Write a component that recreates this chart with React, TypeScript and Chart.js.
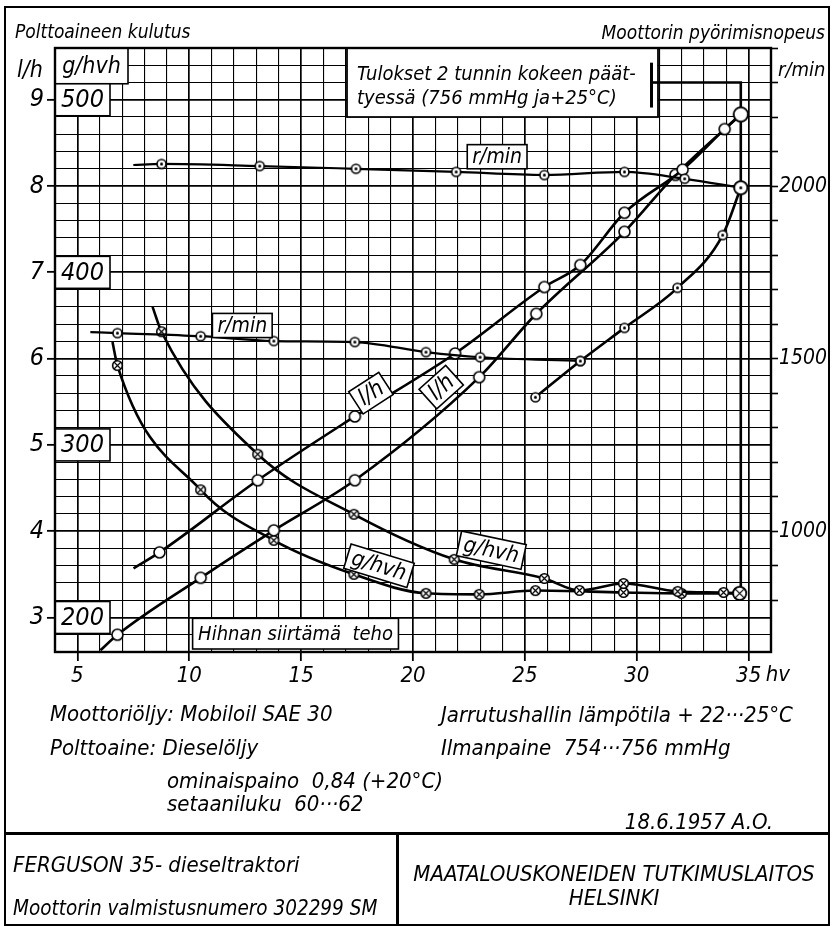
import React, { useEffect, useRef } from 'react';
import { Chart, registerables } from 'chart.js';

Chart.register(...registerables);

const FONT = '"Liberation Sans Narrow", "DejaVu Sans Condensed", "Liberation Sans", "DejaVu Sans", sans-serif';

// ---------- tick labels ----------
const xTickValues = [5, 10, 15, 20, 25, 30, 35];
const lhTickValues = [3, 4, 5, 6, 7, 8, 9];
const gTickValues = [200, 300, 400, 500];
const rpmTickValues = [1000, 1500, 2000];

// ---------- series (x = hv, belt power) ----------
// r/min, governed full-throttle run
const rpmGovX = [7.5, 8.76, 13.15, 17.45, 21.93, 25.87, 29.45, 32.14, 34.65];
const rpmGovY = [2061, 2064, 2058, 2050, 2041, 2032, 2041, 2021, 1995];
// r/min, partial run
const rpmPartX = [5.58, 6.79, 10.51, 13.78, 17.4, 20.58, 23.0, 27.48];
const rpmPartY = [1577, 1574, 1565, 1551, 1548, 1519, 1504, 1493];
// r/min, lugging curve
const rpmLugX = [25.47, 27.48, 29.45, 31.82, 33.84, 34.65];
const rpmLugY = [1388, 1493, 1589, 1705, 1858, 1995];
// l/h, curve A
const fuelAX = [7.51, 8.67, 13.06, 17.4, 21.88, 25.87, 27.48, 29.45, 32.05, 33.93, 34.65];
const fuelAY = [3.57, 3.755, 4.59, 5.33, 6.06, 6.83, 7.085, 7.69, 8.19, 8.66, 8.83];
// l/h, curve B
const fuelBX = [6.03, 6.79, 10.51, 13.78, 17.4, 22.96, 25.51, 29.45, 31.73, 34.65];
const fuelBY = [2.62, 2.8, 3.46, 4.01, 4.59, 5.785, 6.52, 7.47, 8.13, 8.83];
// g/hvh, curve A
const specAX = [8.36, 8.76, 13.06, 17.36, 21.84, 25.87, 27.44, 29.41, 31.83, 33.88, 34.6];
const specAY = [380, 365.6, 294.6, 259.8, 233.7, 222.6, 215.7, 219.7, 215.1, 214.5, 214];
// g/hvh, curve B
const specBX = [6.57, 6.79, 10.51, 13.78, 17.36, 20.58, 22.96, 25.47, 29.41, 32.0, 34.6];
const specBY = [359.6, 346, 274, 244.7, 225, 214, 213.4, 215.6, 214.5, 214, 214];

// ---------- annotation anchors (in data units) ----------
const ANN = {
  leaderX: 34.65, leaderTopLh: 9.2, leaderBottomG: 214,
  bracketX: 30.66, bracketTopLh: 9.43, bracketBottomLh: 8.91,
  noteLeftX: 17.05, noteRightX: 30.95, noteBottomLh: 8.8, noteTextX: 17.5,
  noteLine1Lh: 9.232, noteLine2Lh: 8.95,
  beltLeftX: 10.15, beltRightX: 19.35, beltTopLh: 2.99,
  rpm1: { x: 23.76, y: 2085 }, rpm2: { x: 12.37, y: 1596 },
  lh1: { x: 18.12, y: 5.6, a: -33 }, lh2: { x: 21.26, y: 5.67, a: -42 },
  g1: { x: 18.48, y: 230, a: 17 }, g2: { x: 23.5, y: 239, a: 12 },
};

const NOTES = [
  { t: 'Moottoriöljy: Mobiloil SAE 30', x: 50, b: 722, s: 22 },
  { t: 'Polttoaine: Dieselöljy', x: 50, b: 756, s: 22 },
  { t: 'ominaispaino  0,84 (+20°C)', x: 167, b: 789, s: 22 },
  { t: 'setaaniluku  60···62', x: 167, b: 812, s: 22 },
  { t: 'Jarrutushallin lämpötila + 22···25°C', x: 441, b: 723, s: 22 },
  { t: 'Ilmanpaine  754···756 mmHg', x: 441, b: 756, s: 22 },
  { t: 'FERGUSON 35- dieseltraktori', x: 13, b: 873, s: 22 },
  { t: 'Moottorin valmistusnumero 302299 SM', x: 13, b: 915, s: 20.5 },
];

function makeMarker(kind: string, r: number) {
  const lw = 1.6;
  const size = Math.ceil(2 * r + 2 * lw + 2);
  const c = document.createElement('canvas');
  c.width = size; c.height = size;
  const g = c.getContext('2d') as CanvasRenderingContext2D;
  const m = size / 2;
  g.beginPath(); g.arc(m, m, r, 0, Math.PI * 2);
  g.fillStyle = '#fff'; g.fill();
  g.lineWidth = lw; g.strokeStyle = '#000'; g.stroke();
  if (kind === 'dot') {
    g.beginPath(); g.arc(m, m, 1.5, 0, Math.PI * 2); g.fillStyle = '#000'; g.fill();
  }
  if (kind === 'x') {
    const d = r * 0.72;
    g.beginPath();
    g.moveTo(m - d, m - d); g.lineTo(m + d, m + d);
    g.moveTo(m + d, m - d); g.lineTo(m - d, m + d);
    g.lineWidth = 1.2; g.stroke();
  }
  return c;
}

function series(xs: number[], ys: number[], axis: string, kind: string, r: number, rBig: number, lineStart: boolean, bigEnd: boolean, width: number) {
  const small = makeMarker(kind, r);
  const big = makeMarker(kind, rBig);
  const n = xs.length;
  return {
    type: 'line',
    data: xs.map((x, i) => ({ x, y: ys[i] })),
    yAxisID: axis,
    xAxisID: 'x',
    borderColor: '#000',
    backgroundColor: '#fff',
    borderWidth: width,
    cubicInterpolationMode: 'monotone',
    fill: false,
    pointStyle: xs.map((_, i) => (bigEnd && i === n - 1 ? big : small)),
    pointRadius: xs.map((_, i) => (lineStart && i === 0 ? 0 : 5)),
    pointHoverRadius: 0,
  };
}

const isInt = (v: any) => typeof v === 'number' && Math.abs(v - Math.round(v)) < 1e-6;

function box(ctx: any, text: string, cx: number, cy: number, size: number, angle: number, w?: number, h?: number) {
  ctx.save();
  ctx.translate(cx, cy);
  ctx.rotate((angle * Math.PI) / 180);
  ctx.font = `italic ${size}px ${FONT}`;
  const tw = ctx.measureText(text).width;
  const bw = w ?? tw + 10;
  const bh = h ?? size * 1.15;
  ctx.fillStyle = '#fff';
  ctx.fillRect(-bw / 2, -bh / 2, bw, bh);
  ctx.lineWidth = 1.6;
  ctx.strokeStyle = '#000';
  ctx.strokeRect(-bw / 2, -bh / 2, bw, bh);
  ctx.fillStyle = '#000';
  ctx.textAlign = 'center';
  ctx.textBaseline = 'middle';
  ctx.fillText(text, 0, 1);
  ctx.restore();
}

const decor = {
  id: 'decor',
  beforeDatasetsDraw(chart: any) {
    const { ctx, chartArea: a, scales } = chart;
    const X = scales.x, L = scales.yL, G = scales.yG;
    ctx.save();
    // leader / bracket
    ctx.strokeStyle = '#000';
    ctx.lineWidth = 2.6;
    const xl = X.getPixelForValue(ANN.leaderX);
    const xb = X.getPixelForValue(ANN.bracketX);
    ctx.beginPath();
    ctx.moveTo(xb, L.getPixelForValue(ANN.leaderTopLh));
    ctx.lineTo(xl, L.getPixelForValue(ANN.leaderTopLh));
    ctx.lineTo(xl, G.getPixelForValue(ANN.leaderBottomG));
    ctx.stroke();
    // note box
    const nl = X.getPixelForValue(ANN.noteLeftX), nr = X.getPixelForValue(ANN.noteRightX);
    const nb = L.getPixelForValue(ANN.noteBottomLh);
    ctx.fillStyle = '#fff';
    ctx.fillRect(nl, a.top, nr - nl, nb - a.top);
    ctx.lineWidth = 1.8;
    ctx.strokeRect(nl, a.top, nr - nl, nb - a.top);
    ctx.lineWidth = 3;
    ctx.beginPath();
    ctx.moveTo(xb, L.getPixelForValue(ANN.bracketTopLh));
    ctx.lineTo(xb, L.getPixelForValue(ANN.bracketBottomLh));
    ctx.stroke();
    ctx.beginPath();
    ctx.lineWidth = 2.6;
    ctx.moveTo(xb, L.getPixelForValue(ANN.leaderTopLh));
    ctx.lineTo(nr, L.getPixelForValue(ANN.leaderTopLh));
    ctx.stroke();
    ctx.fillStyle = '#000';
    ctx.font = `italic 20px ${FONT}`;
    ctx.textAlign = 'left';
    ctx.textBaseline = 'alphabetic';
    const tx = X.getPixelForValue(ANN.noteTextX);
    ctx.fillText('Tulokset 2 tunnin kokeen päät-', tx, L.getPixelForValue(ANN.noteLine1Lh));
    ctx.fillText('tyessä (756 mmHg ja+25°C)', tx, L.getPixelForValue(ANN.noteLine2Lh));
    // g/hvh scale boxes
    const bw = 55, bh = 32;
    const top500 = G.getPixelForValue(500) - bh / 2;
    box(ctx, 'g/hvh', a.left + 73 / 2, (a.top + top500) / 2, 23, 0, 73, top500 - a.top);
    gTickValues.forEach((v) => box(ctx, String(v), a.left + bw / 2, G.getPixelForValue(v), 25, 0, bw, bh));
    // belt power box
    const bl = X.getPixelForValue(ANN.beltLeftX), br = X.getPixelForValue(ANN.beltRightX);
    const bt = L.getPixelForValue(ANN.beltTopLh), bb = a.bottom - 3;
    box(ctx, 'Hihnan siirtämä  teho', (bl + br) / 2, (bt + bb) / 2, 20, 0, br - bl, bb - bt);
    // plot border
    ctx.strokeStyle = '#000';
    ctx.lineWidth = 2.4;
    ctx.strokeRect(a.left, a.top, a.right - a.left, a.bottom - a.top);
    ctx.restore();
  },
  afterDatasetsDraw(chart: any) {
    const { ctx, scales } = chart;
    const X = scales.x, L = scales.yL, G = scales.yG, R = scales.yR;
    box(ctx, 'r/min', X.getPixelForValue(ANN.rpm1.x), R.getPixelForValue(ANN.rpm1.y), 21, 0);
    box(ctx, 'r/min', X.getPixelForValue(ANN.rpm2.x), R.getPixelForValue(ANN.rpm2.y), 21, 0);
    box(ctx, 'l/h', X.getPixelForValue(ANN.lh1.x), L.getPixelForValue(ANN.lh1.y), 23, ANN.lh1.a);
    box(ctx, 'l/h', X.getPixelForValue(ANN.lh2.x), L.getPixelForValue(ANN.lh2.y), 23, ANN.lh2.a);
    box(ctx, 'g/hvh', X.getPixelForValue(ANN.g1.x), G.getPixelForValue(ANN.g1.y), 22, ANN.g1.a);
    box(ctx, 'g/hvh', X.getPixelForValue(ANN.g2.x), G.getPixelForValue(ANN.g2.y), 22, ANN.g2.a);
  },
  afterDraw(chart: any) {
    const { ctx, chartArea: a, scales } = chart;
    const X = scales.x;
    ctx.save();
    ctx.fillStyle = '#000';
    ctx.textBaseline = 'alphabetic';
    ctx.font = `italic 19px ${FONT}`;
    ctx.textAlign = 'left';
    ctx.fillText('Polttoaineen kulutus', a.left - 40, a.top - 10);
    ctx.textAlign = 'right';
    ctx.fillText('Moottorin pyörimisnopeus', a.right + 54, a.top - 9);
    ctx.textAlign = 'left';
    ctx.font = `italic 23px ${FONT}`;
    ctx.fillText('l/h', a.left - 38, a.top + 29);
    ctx.font = `italic 20px ${FONT}`;
    ctx.fillText('r/min', a.right + 7, a.top + 28);
    ctx.font = `italic 22px ${FONT}`;
    ctx.fillText('hv', X.getPixelForValue(35) + 17, a.bottom + 29);
    ctx.restore();
  },
};

export default function App() {
  const ref = useRef<HTMLCanvasElement | null>(null);
  useEffect(() => {
    const canvas = ref.current;
    if (!canvas) return;
    const tickFont = (size: number) => ({ family: FONT, size, style: 'italic' as const });
    const datasets: any[] = [
      series(rpmGovX, rpmGovY, 'yR', 'dot', 4.5, 6.5, true, true, 2.2),
      series(rpmPartX, rpmPartY, 'yR', 'dot', 4.5, 6.5, true, false, 2.2),
      series(rpmLugX, rpmLugY, 'yR', 'dot', 4.5, 6.5, false, true, 2.6),
      series(fuelAX, fuelAY, 'yL', 'o', 5.5, 7, true, true, 2.6),
      series(fuelBX, fuelBY, 'yL', 'o', 5.5, 7, true, true, 2.6),
      series(specAX, specAY, 'yG', 'x', 4.8, 6.5, true, true, 2.6),
      series(specBX, specBY, 'yG', 'x', 4.8, 6.5, true, true, 2.6),
    ];
    const chart = new Chart(canvas, {
      type: 'line',
      data: { datasets },
      plugins: [decor],
      options: {
        responsive: false,
        animation: false,
        devicePixelRatio: 1,
        events: [],
        layout: { padding: { left: 8, right: 3, top: 48, bottom: 234 } },
        plugins: { legend: { display: false }, tooltip: { enabled: false }, title: { display: false } },
        scales: {
          x: {
            type: 'linear', position: 'bottom', min: 4, max: 36,
            ticks: {
              stepSize: 1, autoSkip: false, maxRotation: 0, padding: 2, color: '#000', font: tickFont(22),
              callback: (v: any) => (xTickValues.includes(v) ? String(v) : ''),
            },
            grid: {
              color: '#000',
              lineWidth: (c: any) => (c.tick && c.tick.value % 5 === 0 ? 1.7 : 1.1),
              tickLength: 9, tickWidth: 1.8,
              tickColor: (c: any) => (c.tick && xTickValues.includes(c.tick.value) ? '#000' : 'rgba(0,0,0,0)'),
            },
            border: { display: false },
            afterFit: (s: any) => { s.height = 40; },
          },
          yL: {
            type: 'linear', position: 'left', min: 2.6, max: 9.6,
            ticks: {
              stepSize: 0.2, autoSkip: false, padding: 3, color: '#000', font: tickFont(25),
              callback: (v: any) => (isInt(v) && lhTickValues.includes(Math.round(v)) ? String(Math.round(v)) : ''),
            },
            grid: {
              color: '#000',
              lineWidth: (c: any) => (c.tick && isInt(c.tick.value) ? 1.7 : 1.1),
              tickLength: 8, tickWidth: 1.8,
              tickColor: (c: any) => (c.tick && isInt(c.tick.value) ? '#000' : 'rgba(0,0,0,0)'),
            },
            border: { display: false },
            afterFit: (s: any) => { s.width = 47; },
          },
          yG: { type: 'linear', position: 'left', min: 180, max: 530, display: false },
          yR: {
            type: 'linear', position: 'right', min: 650, max: 2400,
            afterBuildTicks: (s: any) => {
              s.ticks = s.ticks.filter((t: any) => Math.abs(t.value / 100 - Math.round(t.value / 100)) < 1e-9);
            },
            ticks: {
              stepSize: 100, autoSkip: false, padding: 1, color: '#000', font: tickFont(21),
              callback: (v: any) => (rpmTickValues.includes(v) ? String(v) : ''),
            },
            grid: { drawOnChartArea: false, color: '#000', tickLength: 7, tickWidth: 1.6, tickColor: '#000' },
            border: { display: false },
            afterFit: (s: any) => { s.width = 58; },
          },
        },
      } as any,
    } as any);
    let alive = true;
    if ((document as any).fonts && (document as any).fonts.ready) {
      (document as any).fonts.ready.then(() => { if (alive) chart.update(); });
    }
    return () => { alive = false; chart.destroy(); };
  }, []);

  const textStyle = (x: number, b: number, size: number): React.CSSProperties => ({
    position: 'absolute', left: x, top: b - 0.85 * size, fontSize: size, lineHeight: `${size}px`, whiteSpace: 'pre',
  });

  return (
    <div style={{ position: 'absolute', left: 0, top: 0, width: 832, height: 926, background: '#fff', overflow: 'hidden', fontFamily: FONT, fontStyle: 'italic', color: '#000' }}>
      <canvas ref={ref} width={832} height={926} style={{ position: 'absolute', left: 0, top: 0, width: 832, height: 926 }} />
      <div style={{ position: 'absolute', left: 4, top: 6, width: 826, height: 920, boxSizing: 'border-box', border: '2.5px solid #000' }} />
      <div style={{ position: 'absolute', left: 4, top: 832, width: 826, height: 2.5, background: '#000' }} />
      <div style={{ position: 'absolute', left: 396, top: 833, width: 2.5, height: 93, background: '#000' }} />
      {NOTES.map((n) => (
        <div key={n.t} style={textStyle(n.x, n.b, n.s)}>{n.t}</div>
      ))}
      <div style={{ ...textStyle(0, 830, 22), left: 'auto', right: 832 - 773 }}>18.6.1957 A.O.</div>
      <div style={{ position: 'absolute', left: 398, width: 432, top: 882 - 0.85 * 22, fontSize: 22, lineHeight: '22px', textAlign: 'center' }}>MAATALOUSKONEIDEN TUTKIMUSLAITOS</div>
      <div style={{ position: 'absolute', left: 398, width: 432, top: 906 - 0.85 * 22, fontSize: 22, lineHeight: '22px', textAlign: 'center' }}>HELSINKI</div>
    </div>
  );
}
